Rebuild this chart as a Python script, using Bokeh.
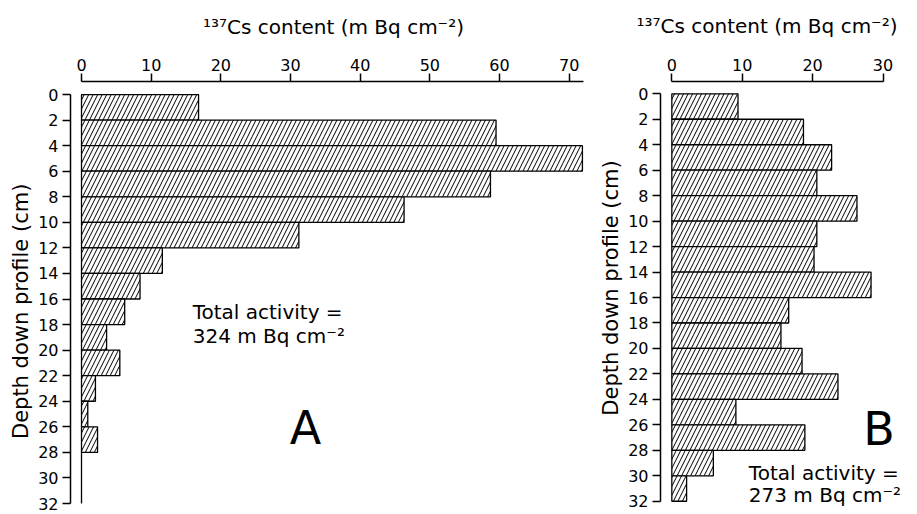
from bokeh.plotting import figure
from bokeh.models import Range1d, FixedTicker, Label
from bokeh.layouts import row
from bokeh.embed import file_html
from bokeh.resources import INLINE

# ---- data ----
depth_top = [0, 2, 4, 6, 8, 10, 12, 14, 16, 18, 20, 22, 24, 26, 28, 30]
layer_thickness = 2
cs_A = [16.8, 59.5, 71.9, 58.7, 46.3, 31.2, 11.6, 8.4, 6.2, 3.6, 5.5, 2.0, 0.9, 2.3, 0.0, 0.0]
cs_B = [9.4, 18.7, 22.7, 20.6, 26.3, 20.6, 20.2, 28.3, 16.6, 15.5, 18.5, 23.6, 9.1, 18.9, 5.9, 2.1]
x_ticks_A = [0, 10, 20, 30, 40, 50, 60, 70]
x_ticks_B = [0, 10, 20, 30]
y_ticks = [0, 2, 4, 6, 8, 10, 12, 14, 16, 18, 20, 22, 24, 26, 28, 30, 32]
x_title = "¹³⁷Cs content (m Bq cm⁻²)"
y_title = "Depth down profile (cm)"
total_A = ["Total activity =", "324 m Bq cm⁻²"]
total_B = ["Total activity =", "273 m Bq cm⁻²"]

FONT = "DejaVu Sans"
NBSP = "\u00a0"


def make_panel(values, xticks, xbounds, width, height, margin, xr, yr,
               title_mode, title_standoff, ylabel_text, ylabel_standoff,
               total_lines, total_pos, letter, letter_pos):
    p = figure(width=width, height=height, x_range=Range1d(*xr), y_range=Range1d(*yr),
               output_backend="svg", toolbar_location=None, x_axis_location="above",
               min_border_left=0, min_border_top=0,
               min_border_right=0, min_border_bottom=0, margin=margin)
    p.outline_line_color = None
    p.background_fill_color = "white"
    p.border_fill_color = "white"
    p.xgrid.visible = False
    p.ygrid.visible = False

    centers = [d + layer_thickness / 2 for d in depth_top]
    p.hbar(y=centers, height=layer_thickness, left=0, right=values,
           fill_color="white", line_color="black", line_width=1.3,
           hatch_pattern="/", hatch_color="black", hatch_weight=1.0, hatch_scale=9)

    for ax in (p.xaxis[0], p.yaxis[0]):
        ax.axis_line_width = 1.5
        ax.axis_line_color = "black"
        ax.major_tick_line_width = 1.5
        ax.major_tick_line_color = "black"
        ax.major_tick_out = 8
        ax.major_tick_in = 0
        ax.minor_tick_line_color = None
        ax.major_label_text_font = FONT
        ax.major_label_text_font_size = "16px"
        ax.major_label_text_color = "black"
        ax.axis_label_text_font = FONT
        ax.axis_label_text_font_style = "normal"
        ax.axis_label_text_color = "black"

    xa = p.xaxis[0]
    xa.ticker = FixedTicker(ticks=xticks)
    xa.bounds = xbounds
    xa.major_label_standoff = 3
    if title_mode[0] == "axis":
        xa.axis_label = x_title
        xa.axis_label_text_font_size = "20px"
        xa.axis_label_standoff = title_standoff
    else:
        # title placed by offset from the frame's left edge; a blank axis
        # label keeps the gap between tick labels and title
        xa.axis_label = NBSP
        xa.axis_label_text_font_size = "2px"
        xa.axis_label_standoff = title_mode[2]
        p.title.text = x_title
        p.title.align = "left"
        p.title.vertical_align = "top"
        p.title.offset = title_mode[1]
        p.title.standoff = title_standoff
        p.title.text_font = FONT
        p.title.text_font_size = "20px"
        p.title.text_font_style = "normal"
        p.title.text_color = "black"

    ya = p.yaxis[0]
    ya.ticker = FixedTicker(ticks=y_ticks)
    ya.bounds = (0, 32)
    ya.major_label_standoff = 4
    ya.axis_label = ylabel_text
    ya.axis_label_text_font_size = "21px"
    ya.axis_label_standoff = ylabel_standoff

    (tx, ty1, ty2) = total_pos
    for txt, ty in ((total_lines[0], ty1), (total_lines[1], ty2)):
        p.add_layout(Label(x=tx, y=ty, text=txt, text_font=FONT,
                           text_font_size="20px", text_baseline="alphabetic",
                           text_align="left", text_color="black"))
    p.add_layout(Label(x=letter_pos[0], y=letter_pos[1], text=letter, text_font=FONT,
                       text_font_size="46px", text_baseline="alphabetic",
                       text_align="left", text_color="black"))
    return p


pA = make_panel(cs_A, x_ticks_A, (0, 72), 590, 504, (10, 0, 0, 6),
                (-1.58, 73.92), (32.86, -1.02), ("axis",), 17,
                y_title + NBSP * 4, 2,
                total_A, (15.96, 17.0, 18.9), "A", (29.9, 26.1))
pB = make_panel(cs_B, x_ticks_B, (0, 30), 321, 504, (10, 0, 0, 0),
                (-1.61, 34.9), (33.04, -0.966), ("title", -24, 7), 7,
                NBSP * 3 + y_title, 2,
                total_B, (10.94, 29.75, 31.48), "B", (27.2, 26.3))

layout = row(pA, pB)
open("out.html", "w").write(file_html(layout, INLINE))
